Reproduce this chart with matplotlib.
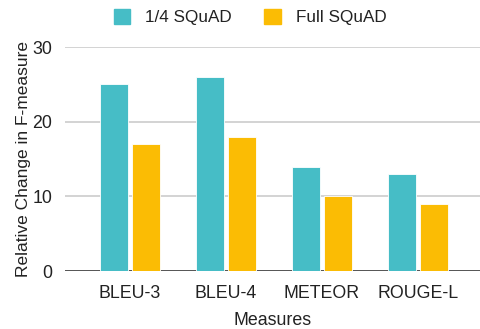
import numpy as np
import matplotlib.pyplot as plt
from matplotlib.patches import Patch

plt.rcParams['font.family'] = ['Liberation Sans', 'DejaVu Sans']

measures = ['BLEU-3', 'BLEU-4', 'METEOR', 'ROUGE-L']
quarter_squad = [25, 26, 14, 13]
full_squad = [17, 18, 10, 9]
series_names = ['1/4 SQuAD', 'Full SQuAD']
colors = ['#46BDC6', '#FBBC04']

fig = plt.figure(figsize=(4.81, 3.29), dpi=100)
ax = fig.add_axes([0.135, 0.176, 0.863, 0.681])

x = np.arange(len(measures))
w = 0.29
off = 0.167
ax.bar(x - off, quarter_squad, w, color=colors[0], edgecolor='white', linewidth=0.6, zorder=3)
ax.bar(x + off, full_squad, w, color=colors[1], edgecolor='white', linewidth=0.6, zorder=3)

ax.set_ylim(0, 30)
ax.set_xlim(-0.677, 3.646)
ax.set_yticks([0, 10, 20, 30])
ax.set_xticks(x)
ax.set_xticklabels(measures)
ax.yaxis.grid(True, color='#cccccc', linewidth=1.2, zorder=0)
ax.axhline(0, color='#555555', linewidth=1.4, zorder=2)
for s in ax.spines.values():
    s.set_visible(False)
ax.tick_params(axis='both', length=0, labelsize=12.8, colors='#222222')
ax.tick_params(axis='y', pad=9)
ax.tick_params(axis='x', pad=10)
ax.set_ylabel('Relative Change in F-measure', fontsize=12.5, color='#222222', labelpad=1)
ax.set_xlabel('Measures', fontsize=12.8, color='#222222', labelpad=7)

handles = [Patch(color=c) for c in colors]
fig.legend(handles, series_names, loc='center', bbox_to_anchor=(0.52, 0.948), ncol=2,
           frameon=False, fontsize=12.3, handlelength=0.95, handleheight=0.95,
           columnspacing=1.9, handletextpad=0.9, labelcolor='#222222')

fig.savefig('out.png', dpi=100)
